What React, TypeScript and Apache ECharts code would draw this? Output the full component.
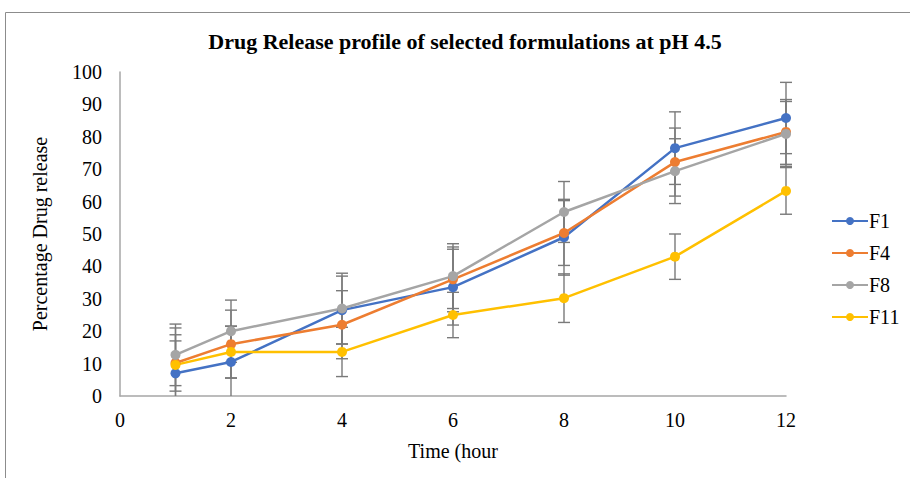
import React, { useEffect, useRef } from "react";
import * as echarts from "echarts";

const times = [1, 2, 4, 6, 8, 10, 12];
const f1 = [7, 10.5, 26.5, 33.6, 49, 76.5, 85.8];
const f4 = [10.2, 16, 22, 36, 50.3, 72.2, 81.5];
const f8 = [12.7, 20, 27, 37, 56.8, 69.4, 80.9];
const f11 = [9.6, 13.6, 13.6, 25, 30.2, 43, 63.3];
const f1Err = [10, 11, 10.5, 11.7, 11.7, 11.2, 11];
const f4Err = [8.7, 10.5, 10.5, 10, 10, 10.5, 10];
const f8Err = [9.5, 9.6, 10.9, 10, 9.4, 10, 10];
const f11Err = [11.4, 8, 7.6, 7, 7.5, 7, 7.2];

const names = ["F1", "F4", "F8", "F11"];
const colors = ["#4472C4", "#ED7D31", "#A5A5A5", "#FFC000"];
const values = [f1, f4, f8, f11];
const errors = [f1Err, f4Err, f8Err, f11Err];

const FONT = "'Liberation Serif', 'Times New Roman', serif";

export default function App() {
  const ref = useRef<HTMLDivElement>(null);
  useEffect(() => {
    if (!ref.current) return;
    const chart = echarts.init(ref.current, null, { renderer: "svg" });
    const lineSeries: any[] = names.map((n, i) => ({
      name: n,
      type: "line",
      data: times.map((t, j) => [t, values[i][j]]),
      symbol: "circle",
      symbolSize: 10,
      lineStyle: { color: colors[i], width: 2.5 },
      itemStyle: { color: colors[i] },
      z: 3,
    }));
    const errSeries: any[] = names.map((n, i) => ({
      name: n + " err",
      type: "custom",
      z: 2,
      silent: true,
      data: times.map((t, j) => [t, values[i][j] - errors[i][j], values[i][j] + errors[i][j]]),
      renderItem: (params: any, api: any) => {
        const x = api.value(0);
        const lo = api.coord([x, api.value(1)]);
        const hi = api.coord([x, api.value(2)]);
        const bottomY = api.coord([x, 0])[1];
        const topY = api.coord([x, 100])[1];
        const style = { stroke: "#7a7a7a", lineWidth: 1.4 };
        const children: any[] = [];
        const y1 = Math.min(lo[1], bottomY);
        const y2 = Math.max(hi[1], topY);
        children.push({ type: "line", shape: { x1: lo[0], y1, x2: hi[0], y2 }, style });
        if (lo[1] <= bottomY)
          children.push({ type: "line", shape: { x1: lo[0] - 6, y1: lo[1], x2: lo[0] + 6, y2: lo[1] }, style });
        children.push({ type: "line", shape: { x1: hi[0] - 6, y1: hi[1], x2: hi[0] + 6, y2: hi[1] }, style });
        return { type: "group", children };
      },
    }));
    chart.setOption({
      animation: false,
      title: {
        text: "Drug Release profile of selected formulations at pH 4.5",
        left: 460,
        top: 25,
        textAlign: "center",
        textStyle: { fontFamily: FONT, fontSize: 22, fontWeight: "bold", color: "#000" },
      },
      graphic: [
        {
          type: "rect",
          shape: { x: 5.5, y: 12.5, width: 920, height: 480 },
          style: { fill: "none", stroke: "#8c8c8c", lineWidth: 1 },
          silent: true,
        },
      ],
      legend: {
        orient: "vertical",
        left: 826,
        top: 206,
        itemGap: 12,
        itemWidth: 36,
        itemHeight: 10,
        data: names,
        textStyle: { fontFamily: FONT, fontSize: 20, color: "#000", padding: [0, 0, 0, -4] },
      },
      grid: { left: 120, right: 124, top: 72, bottom: 82 },
      xAxis: {
        type: "value",
        min: 0,
        max: 12,
        interval: 2,
        name: "Time (hour",
        nameLocation: "middle",
        nameGap: 45,
        nameTextStyle: { fontFamily: FONT, fontSize: 20, color: "#000" },
        axisLine: { show: true, lineStyle: { color: "#a6a6a6", width: 1.5 } },
        axisTick: { show: false },
        splitLine: { show: false },
        axisLabel: { fontFamily: FONT, fontSize: 20, color: "#000", margin: 14 },
      },
      yAxis: {
        type: "value",
        min: 0,
        max: 100,
        interval: 10,
        name: "Percentage Drug release",
        nameLocation: "middle",
        nameGap: 70,
        nameRotate: 90,
        nameTextStyle: { fontFamily: FONT, fontSize: 20, color: "#000" },
        axisLine: { show: true, lineStyle: { color: "#a6a6a6", width: 1.5 } },
        axisTick: { show: false },
        splitLine: { show: false },
        axisLabel: { fontFamily: FONT, fontSize: 20, color: "#000", margin: 18 },
      },
      series: [...errSeries, ...lineSeries],
    });
    return () => chart.dispose();
  }, []);
  return (
    <div
      ref={ref}
      style={{ position: "absolute", left: 0, top: 0, width: 910, height: 478 }}
    />
  );
}
